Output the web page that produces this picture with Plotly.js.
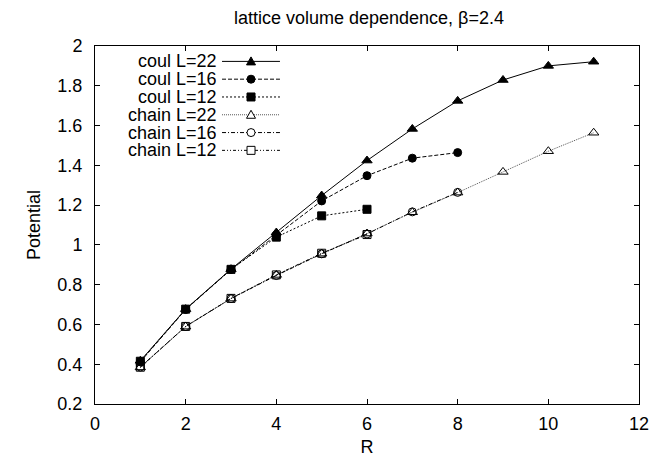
<!DOCTYPE html>
<html><head><meta charset="utf-8">
<script src="https://cdn.plot.ly/plotly-3.0.1.min.js"></script>
<style>html,body{margin:0;padding:0;background:#fff}#chart{width:653px;height:457px}</style>
</head><body><div id="chart"></div>
<script>
const R22 = [1,2,3,4,5,6,7,8,9,10,11];
const R16 = [1,2,3,4,5,6,7,8];
const R12 = [1,2,3,4,5,6];
const coulL22 = [0.417,0.677,0.878,1.062,1.248,1.424,1.583,1.724,1.829,1.900,1.921];
const coulL16 = [0.412,0.675,0.876,1.050,1.221,1.348,1.436,1.464];
const coulL12 = [0.415,0.677,0.877,1.039,1.146,1.179];
const chainL22 = [0.384,0.589,0.730,0.849,0.956,1.057,1.164,1.263,1.367,1.471,1.564];
const chainL16 = [0.386,0.590,0.730,0.846,0.955,1.055,1.166,1.264];
const chainL12 = [0.385,0.590,0.731,0.849,0.958,1.052];
const names = ['coul L=22','coul L=16','coul L=12','chain L=22','chain L=16','chain L=12'];

const styles = [
  {sym:'triangle-up', dash:'solid', lc:'#000', size:9},
  {sym:'circle', dash:'4px,2px', lc:'#000', size:8},
  {sym:'square', dash:'2px,2px', lc:'#000', size:8},
  {sym:'triangle-up-open', dash:'1px,1px', lc:'#555', size:9},
  {sym:'circle-open', dash:'4px,2px,1px,2px', lc:'#000', size:8},
  {sym:'square-open', dash:'3px,2px,1px,2px,1px,2px', lc:'#000', size:8}
];
const xs = [R22,R16,R12,R22,R16,R12];
const ys = [coulL22,coulL16,coulL12,chainL22,chainL16,chainL12];

const data = names.map((n,i)=>({
  x:xs[i], y:ys[i], name:n, type:'scatter', mode:'lines+markers', showlegend:false,
  line:{color:styles[i].lc, width:1, dash:styles[i].dash},
  marker:{symbol:styles[i].sym, size:styles[i].size, color:'#000', line:{color:'#000',width:1}}
}));

const font = {family:'Liberation Sans, Arial, sans-serif',color:'#000'};
const FS = 18;

// gnuplot-style key (text right-aligned, sample on the right)
const keyTextX = 0.2243, keyLine0 = 0.2335, keyLine1 = 0.340, keyMark = 0.2868;
const keyTop = 0.957, keyStep = 0.0497;
const annotations = [], shapes = [];
names.forEach((n,i)=>{
  const yy = keyTop - i*keyStep;
  annotations.push({text:n, xref:'paper', yref:'paper', x:keyTextX, y:yy, xanchor:'right', yanchor:'middle',
    height:16, borderpad:0, borderwidth:0, valign:'middle', showarrow:false, font:Object.assign({size:FS},font)});
  shapes.push({type:'line', xref:'paper', yref:'paper', x0:keyLine0, x1:keyLine1, y0:yy, y1:yy,
    line:{color:styles[i].lc, width:1, dash:styles[i].dash}});
  const s = styles[i].sym, filled = s.indexOf('open')<0;
  const fill = filled ? '#000' : '#fff';
  const base = {xref:'paper', yref:'paper', xsizemode:'pixel', ysizemode:'pixel', xanchor:keyMark, yanchor:yy,
    line:{color:'#000',width:1}, fillcolor:fill, layer:'above'};
  if (s.startsWith('triangle')) {
    shapes.push(Object.assign({type:'path', path:'M-4.5,-3.5 L4.5,-3.5 L0,4.5 Z'}, base));
  } else if (s.startsWith('circle')) {
    shapes.push(Object.assign({type:'circle', x0:-4, x1:4, y0:-4, y1:4}, base));
  } else {
    shapes.push(Object.assign({type:'rect', x0:-4, x1:4, y0:-4, y1:4}, base));
  }
});

const axisCommon = {showgrid:false, zeroline:false, showline:true, mirror:'ticks',
  linecolor:'#000', linewidth:1, ticks:'inside', ticklen:5, tickcolor:'#000',
  tickfont:Object.assign({size:FS},font)};

const layout = {
  width:653, height:457,
  margin:{l:95, r:14, t:46, b:53},
  paper_bgcolor:'#fff', plot_bgcolor:'#fff',
  font:Object.assign({size:FS},font),
  title:{text:'lattice volume dependence, β=2.4', font:Object.assign({size:FS},font),
    x:0.565, xanchor:'center', y:0.962, yanchor:'middle'},
  xaxis:Object.assign({range:[0,12], dtick:2, tick0:0, ticklabelstandoff:3,
    title:{text:'R', font:Object.assign({size:FS},font), standoff:8}}, axisCommon),
  yaxis:Object.assign({range:[0.2,2], dtick:0.2, tick0:0.2, ticklabelstandoff:8,
    title:{text:'Potential', font:Object.assign({size:FS},font), standoff:12}}, axisCommon),
  annotations:annotations, shapes:shapes, showlegend:false
};
Plotly.newPlot('chart', data, layout, {displayModeBar:false, staticPlot:true});
</script></body></html>
